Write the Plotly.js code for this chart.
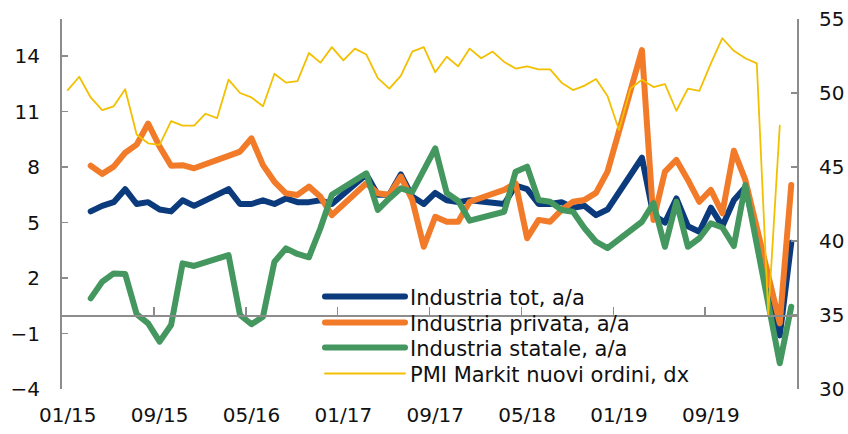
<!DOCTYPE html>
<html>
<head>
<meta charset="utf-8">
<script src="https://cdn.plot.ly/plotly-3.0.1.min.js"></script>
<style>
  html, body { margin: 0; padding: 0; background: #fff; }
  #chart { width: 848px; height: 434px; }
  .scatterlayer .js-line { stroke-linejoin: round; stroke-linecap: round; }
  .legendlines path { stroke-linecap: round; }
</style>
</head>
<body>
<div id="chart"></div>
<script>
// Monthly categories 01/15 .. 04/20
const categories = [
  "01/15","02/15","03/15","04/15","05/15","06/15","07/15","08/15","09/15","10/15","11/15","12/15",
  "01/16","02/16","03/16","04/16","05/16","06/16","07/16","08/16","09/16","10/16","11/16","12/16",
  "01/17","02/17","03/17","04/17","05/17","06/17","07/17","08/17","09/17","10/17","11/17","12/17",
  "01/18","02/18","03/18","04/18","05/18","06/18","07/18","08/18","09/18","10/18","11/18","12/18",
  "01/19","02/19","03/19","04/19","05/19","06/19","07/19","08/19","09/19","10/19","11/19","12/19",
  "01/20","02/20","03/20","04/20"
];

// Industria tot, a/a (left axis)
const industriaTot = [
  null, null, 5.6, 5.9, 6.1, 6.8, 6.0, 6.1, 5.7, 5.6, 6.2, 5.9,
  null, null, 6.8, 6.0, 6.0, 6.2, 6.0, 6.3, 6.1, 6.1, 6.2, 6.0,
  null, null, 7.6, 6.5, 6.5, 7.6, 6.4, 6.0, 6.6, 6.2, 6.1, 6.2,
  null, null, 6.0, 7.0, 6.8, 6.0, 6.0, 6.1, 5.8, 5.9, 5.4, 5.7,
  null, null, 8.5, 5.4, 5.0, 6.3, 4.8, 4.5, 5.8, 4.8, 6.2, 6.9,
  null, null, -1.1, 3.9
];

// Industria privata, a/a (left axis)
const industriaPrivata = [
  null, null, 8.07, 7.63, 8.02, 8.77, 9.21, 10.35, 9.1, 8.07, 8.1, 7.93,
  null, null, 8.6, 8.83, 9.55, 8.1, 7.2, 6.58, 6.49, 6.94, 6.39, 5.4,
  null, null, 7.12, 6.58, 6.49, 7.48, 6.22, 3.69, 5.31, 5.04, 5.04, 6.12,
  null, null, 6.76, 7.12, 4.15, 5.14, 5.04, 5.68, 6.12, 6.22, 6.6, 7.75,
  null, null, 14.32, 5.14, 7.75, 8.38, 7.3, 6.12, 6.76, 5.5, 8.88, 7.3,
  null, null, -0.45, 7.03
];

// Industria statale, a/a (left axis)
const industriaStatale = [
  null, null, 0.9, 1.8, 2.25, 2.22, 0.05, -0.45, -1.44, -0.54, 2.79, 2.65,
  null, null, 3.24, 0.0, -0.5, -0.09, 2.88, 3.6, 3.3, 3.12, 4.69, 6.5,
  null, null, 7.66, 5.68, 6.3, 6.85, 6.66, 7.8, 9.01, 6.6, 6.16, 5.1,
  null, null, 5.58, 7.75, 8.02, 6.22, 6.12, 5.68, 5.58, 4.69, 3.96, 3.62,
  null, null, 5.04, 6.04, 3.69, 6.12, 3.69, 4.15, 4.96, 4.73, 3.73, 7.03,
  null, null, -2.61, 0.45
];

// PMI Markit nuovi ordini (right axis)
const pmiNuoviOrdini = [
  50.2, 51.1, 49.7, 48.85, 49.1, 50.25, 47.2, 46.6, 46.5, 48.1, 47.8, 47.8,
  48.6, 48.3, 50.9, 50.0, 49.7, 49.1, 51.3, 50.7, 50.8, 52.7, 52.05, 53.1,
  52.2, 53.0, 52.6, 51.0, 50.3, 51.15, 52.8, 53.1, 51.4, 52.45, 51.8, 53.0,
  52.35, 52.8, 52.1, 51.65, 51.8, 51.6, 51.6, 50.7, 50.2, 50.5, 50.95, 49.8,
  47.5, 50.3, 50.9, 50.4, 50.6, 48.8, 50.3, 50.15, 52.0, 53.7, 52.85, 52.35,
  52.0, 35.0, 47.8, null
];

const seriesNames = [
  "Industria tot, a/a",
  "Industria privata, a/a",
  "Industria statale, a/a",
  "PMI Markit nuovi ordini, dx"
];

const leftTicks = [-4, -1, 2, 5, 8, 11, 14];
const rightTicks = [30, 35, 40, 45, 50, 55];
const labelEvery = 8;

const xIdx = categories.map((_, i) => i);
const labelIdx = xIdx.filter(i => i % labelEvery === 0 && i < 60);
const boundaryIdx = labelIdx.filter(i => i > 0).map(i => i - 0.5);

const axisGrey = "#8c8c8c";
const font = "DejaVu Sans, Arial, sans-serif";
const legendIds = ["legend", "legend2", "legend3", "legend4"];
const legendRowY = [0.249, 0.179, 0.111, 0.041];

const traces = [
  { x: xIdx, y: industriaTot, name: seriesNames[0], type: "scatter", mode: "lines",
    connectgaps: true, line: { color: "#0b3b7c", width: 6 }, xaxis: "x", yaxis: "y", legend: legendIds[0] },
  { x: xIdx, y: industriaPrivata, name: seriesNames[1], type: "scatter", mode: "lines",
    connectgaps: true, line: { color: "#f27b2a", width: 6 }, xaxis: "x", yaxis: "y", legend: legendIds[1] },
  { x: xIdx, y: industriaStatale, name: seriesNames[2], type: "scatter", mode: "lines",
    connectgaps: true, line: { color: "#43975f", width: 6 }, xaxis: "x", yaxis: "y", legend: legendIds[2] },
  { x: xIdx, y: pmiNuoviOrdini, name: seriesNames[3], type: "scatter", mode: "lines",
    connectgaps: false, line: { color: "#f2c000", width: 1.8 }, xaxis: "x2", yaxis: "y2", legend: legendIds[3] }
];

const xRange = [-0.5, categories.length - 0.5];

function legendAt(y) {
  return {
    x: 0.351, y: y, xanchor: "left", yanchor: "middle",
    bgcolor: "rgba(0,0,0,0)", borderwidth: 0,
    font: { family: font, size: 21, color: "#111" },
    itemwidth: 80, tracegroupgap: 0
  };
}

const layout = {
  width: 848, height: 434,
  margin: { l: 62, r: 51, t: 19, b: 45 },
  paper_bgcolor: "#ffffff", plot_bgcolor: "#ffffff",
  font: { family: font, color: "#111", size: 20 },
  showlegend: true,
  legend: legendAt(legendRowY[0]),
  legend2: legendAt(legendRowY[1]),
  legend3: legendAt(legendRowY[2]),
  legend4: legendAt(legendRowY[3]),
  xaxis: {
    domain: [0, 1], range: xRange,
    tickmode: "array", tickvals: labelIdx, ticktext: labelIdx.map(i => categories[i]),
    showline: false, ticks: "", showgrid: false, zeroline: false,
    tickfont: { family: font, size: 20, color: "#111" },
    ticklabelstandoff: 12
  },
  xaxis2: {
    overlaying: "x", anchor: "free", position: 0.2, range: xRange,
    tickmode: "array", tickvals: boundaryIdx, showticklabels: false,
    ticks: "inside", ticklen: 8, tickwidth: 1.5, tickcolor: axisGrey,
    showline: true, linecolor: axisGrey, linewidth: 1.5,
    showgrid: false, zeroline: false
  },
  yaxis: {
    range: [-4, 16], tickmode: "array", tickvals: leftTicks,
    ticks: "inside", ticklen: 6, tickwidth: 1.5, tickcolor: axisGrey,
    showline: true, linecolor: axisGrey, linewidth: 2,
    showgrid: false, zeroline: false,
    tickfont: { family: font, size: 20, color: "#111" },
    ticklabelstandoff: 16
  },
  yaxis2: {
    overlaying: "y", side: "right", anchor: "x", range: [30, 55],
    tickmode: "array", tickvals: rightTicks,
    ticks: "inside", ticklen: 6, tickwidth: 1.5, tickcolor: axisGrey,
    showline: true, linecolor: axisGrey, linewidth: 2,
    showgrid: false, zeroline: false,
    tickfont: { family: font, size: 20, color: "#111" },
    ticklabelstandoff: 16
  }
};

Plotly.newPlot("chart", traces, layout, { staticPlot: true, displayModeBar: false });
</script>
</body>
</html>
